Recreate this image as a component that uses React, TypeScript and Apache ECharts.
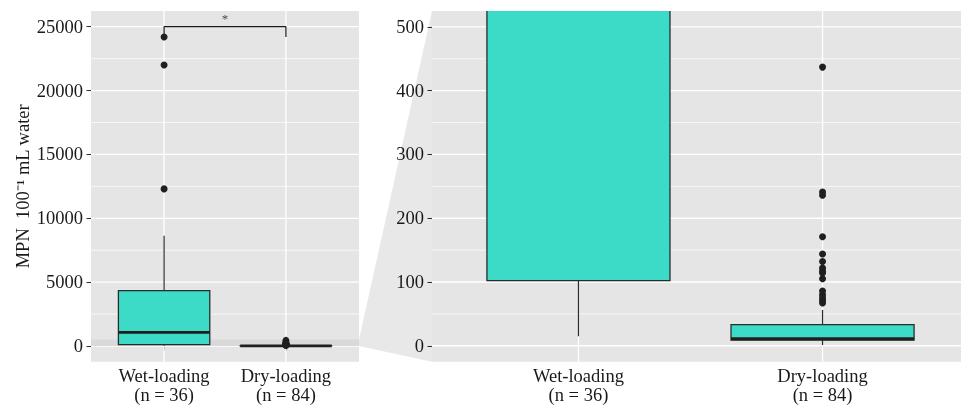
import React, { useEffect, useRef } from "react";
import * as echarts from "echarts";

// ---- data ----
const categories = ["Wet-loading", "Dry-loading"];
const sampleSizes = ["(n = 36)", "(n = 84)"];
// [min whisker, Q1, median, Q3, max whisker]
const wetStats = [15, 102, 1073, 4330, 8636];
const dryStats = [1, 9, 11, 33, 56];
const wetOutliers = [24200, 22000, 12300];
const dryOutliers = [437, 241, 236, 171, 144, 132, 122, 117, 114, 105, 86, 80, 75, 71, 67];
const leftTicks = [0, 5000, 10000, 15000, 20000, 25000];
const leftMinor = [2500, 7500, 12500, 17500, 22500];
const rightTicks = [0, 100, 200, 300, 400, 500];
const rightMinor = [50, 150, 250, 350, 450];
const leftRange = [-1230, 26230];
const rightRange = [-25, 525];
const zoomRange = [0, 500];
const bracketY = 25000;
const bracketFoot = 24200;
const bracketLabel = "*";
const yTitle = "MPN  100\u207B\u00B9 mL water";

const FONT = "'Liberation Serif', 'Times New Roman', serif";
const TEXT = "#1a1a1a";
const PANEL = "#e5e5e5";
const FILL = "#3bdbc7";
const EDGE = "#2b2b2b";

export default function App() {
  const ref = useRef<HTMLDivElement>(null);
  useEffect(() => {
    if (!ref.current) return;
    const chart = echarts.init(ref.current, null, { renderer: "svg" });

    const xAxis = (gi: number) => ({
      type: "value",
      gridIndex: gi,
      min: 0.4,
      max: 2.6,
      axisLine: { show: false },
      splitLine: { show: false },
      axisTick: { show: true, customValues: [1, 2], length: 4.5, lineStyle: { color: EDGE, width: 1 } },
      axisLabel: {
        customValues: [1, 2],
        formatter: (v: number) => {
          const i = Math.round(v) - 1;
          return categories[i] + "\n" + sampleSizes[i];
        },
        margin: 5,
        fontFamily: FONT,
        fontSize: 18.5,
        lineHeight: 19,
        color: TEXT,
      },
    });
    const yAxis = (gi: number, range: number[], ticks: number[], extra: any = {}) => ({
      type: "value",
      gridIndex: gi,
      min: range[0],
      max: range[1],
      axisLine: { show: false },
      splitLine: { show: false },
      axisTick: { show: true, customValues: ticks, length: 4.5, lineStyle: { color: EDGE, width: 1 } },
      axisLabel: {
        customValues: ticks,
        formatter: (v: number) => String(v),
        margin: 8,
        fontFamily: FONT,
        fontSize: 18.5,
        color: TEXT,
      },
      ...extra,
    });

    const hLines = (gi: number, vals: number[], width: number, z: number) => ({
      type: "custom",
      xAxisIndex: gi,
      yAxisIndex: gi,
      z,
      silent: true,
      clip: true,
      data: vals.map((v) => [1.5, v]),
      renderItem: (params: any, api: any) => {
        const cs = params.coordSys;
        const y = api.coord([1.5, api.value(1)])[1];
        return {
          type: "line",
          shape: { x1: cs.x, y1: y, x2: cs.x + cs.width, y2: y },
          style: { stroke: "#ffffff", lineWidth: width },
        };
      },
    });
    const vLines = (gi: number) => ({
      type: "custom",
      xAxisIndex: gi,
      yAxisIndex: gi,
      z: 1,
      silent: true,
      data: [[1, 0], [2, 0]],
      renderItem: (params: any, api: any) => {
        const cs = params.coordSys;
        const x = api.coord([api.value(0), 0])[0];
        return {
          type: "line",
          shape: { x1: x, y1: cs.y, x2: x, y2: cs.y + cs.height },
          style: { stroke: "#ffffff", lineWidth: 1.3 },
        };
      },
    });
    const boxes = (gi: number) => ({
      type: "custom",
      xAxisIndex: gi,
      yAxisIndex: gi,
      z: 3,
      clip: true,
      silent: true,
      dimensions: ["x", "min", "q1", "med", "q3", "max"],
      encode: { x: 0, y: [1, 2, 3, 4, 5] },
      data: [[1, ...wetStats], [2, ...dryStats]],
      renderItem: (params: any, api: any) => {
        const x = api.value(0);
        const mn = api.coord([x, api.value(1)]);
        const q1 = api.coord([x - 0.375, api.value(2)]);
        const md = api.coord([x - 0.375, api.value(3)]);
        const q3 = api.coord([x + 0.375, api.value(4)]);
        const mx = api.coord([x, api.value(5)]);
        return {
          type: "group",
          children: [
            { type: "line", shape: { x1: mn[0], y1: mn[1], x2: mn[0], y2: q1[1] }, style: { stroke: EDGE, lineWidth: 1.2 } },
            { type: "line", shape: { x1: mx[0], y1: q3[1], x2: mx[0], y2: mx[1] }, style: { stroke: EDGE, lineWidth: 1.2 } },
            {
              type: "rect",
              shape: { x: q1[0], y: q3[1], width: q3[0] - q1[0], height: q1[1] - q3[1] },
              style: { fill: FILL, stroke: EDGE, lineWidth: 1.3 },
            },
            { type: "line", shape: { x1: md[0], y1: md[1], x2: q3[0], y2: md[1] }, style: { stroke: "#1f1f1f", lineWidth: 2.8 } },
          ],
        };
      },
    });
    const dots = (gi: number) => ({
      type: "scatter",
      xAxisIndex: gi,
      yAxisIndex: gi,
      z: 4,
      clip: true,
      silent: true,
      symbolSize: 7,
      itemStyle: { color: "#1f1f1f", opacity: 1 },
      data: [...wetOutliers.map((v) => [1, v]), ...dryOutliers.map((v) => [2, v])],
    });

    chart.setOption({
      animation: false,
      grid: [
        { left: 91, top: 11, width: 268, height: 350.7, show: true, backgroundColor: PANEL, borderWidth: 0, outerBoundsMode: "none" },
        { left: 432, top: 11, width: 537, height: 350.7, show: true, backgroundColor: PANEL, borderWidth: 0, outerBoundsMode: "none" },
      ],
      xAxis: [xAxis(0), xAxis(1)],
      yAxis: [
        yAxis(0, leftRange, leftTicks, {
          name: yTitle,
          nameLocation: "middle",
          nameGap: 52,
          nameTextStyle: { fontFamily: FONT, fontSize: 18.5, color: TEXT },
        }),
        yAxis(1, rightRange, rightTicks),
      ],
      series: [
        hLines(0, leftMinor, 0.7, 1),
        hLines(0, leftTicks, 1.3, 1),
        vLines(0),
        {
          type: "custom",
          xAxisIndex: 0,
          yAxisIndex: 0,
          z: 2,
          silent: true,
          data: [[1.5, zoomRange[0], zoomRange[1]]],
          renderItem: (params: any, api: any) => {
            const cs = params.coordSys;
            const a = api.coord([1.5, api.value(1)])[1];
            const b = api.coord([1.5, api.value(2)])[1];
            return { type: "rect", shape: { x: cs.x, y: b, width: cs.width, height: a - b }, style: { fill: "#d9d9d9" } };
          },
        },
        boxes(0),
        dots(0),
        {
          type: "line",
          xAxisIndex: 0,
          yAxisIndex: 0,
          z: 4,
          silent: true,
          symbol: "none",
          lineStyle: { color: "#1a1a1a", width: 1.2 },
          data: [[1, bracketFoot], [1, bracketY], [2, bracketY], [2, bracketFoot]],
        },
        {
          type: "scatter",
          xAxisIndex: 0,
          yAxisIndex: 0,
          z: 4,
          silent: true,
          symbolSize: 0,
          data: [[1.5, bracketY]],
          label: {
            show: true,
            position: "top",
            distance: 2,
            formatter: bracketLabel,
            fontFamily: FONT,
            fontSize: 13,
            color: TEXT,
          },
        },
        hLines(1, rightMinor, 0.7, 1),
        hLines(1, rightTicks, 1.3, 1),
        vLines(1),
        boxes(1),
        dots(1),
      ],
    });

    const l0 = chart.convertToPixel({ gridIndex: 0 }, [2.6, zoomRange[0]]) as number[];
    const l1 = chart.convertToPixel({ gridIndex: 0 }, [2.6, zoomRange[1]]) as number[];
    const rT = chart.convertToPixel({ gridIndex: 1 }, [0.4, rightRange[1]]) as number[];
    const rB = chart.convertToPixel({ gridIndex: 1 }, [0.4, rightRange[0]]) as number[];
    chart.setOption({
      graphic: [
        {
          type: "polygon",
          z: -1,
          silent: true,
          shape: { points: [l1, rT, rB, l0] },
          style: { fill: "#e8e8e8" },
        },
      ],
    });

    return () => chart.dispose();
  }, []);
  return <div ref={ref} style={{ position: "fixed", left: 0, top: 0, width: 961, height: 405 }} />;
}
